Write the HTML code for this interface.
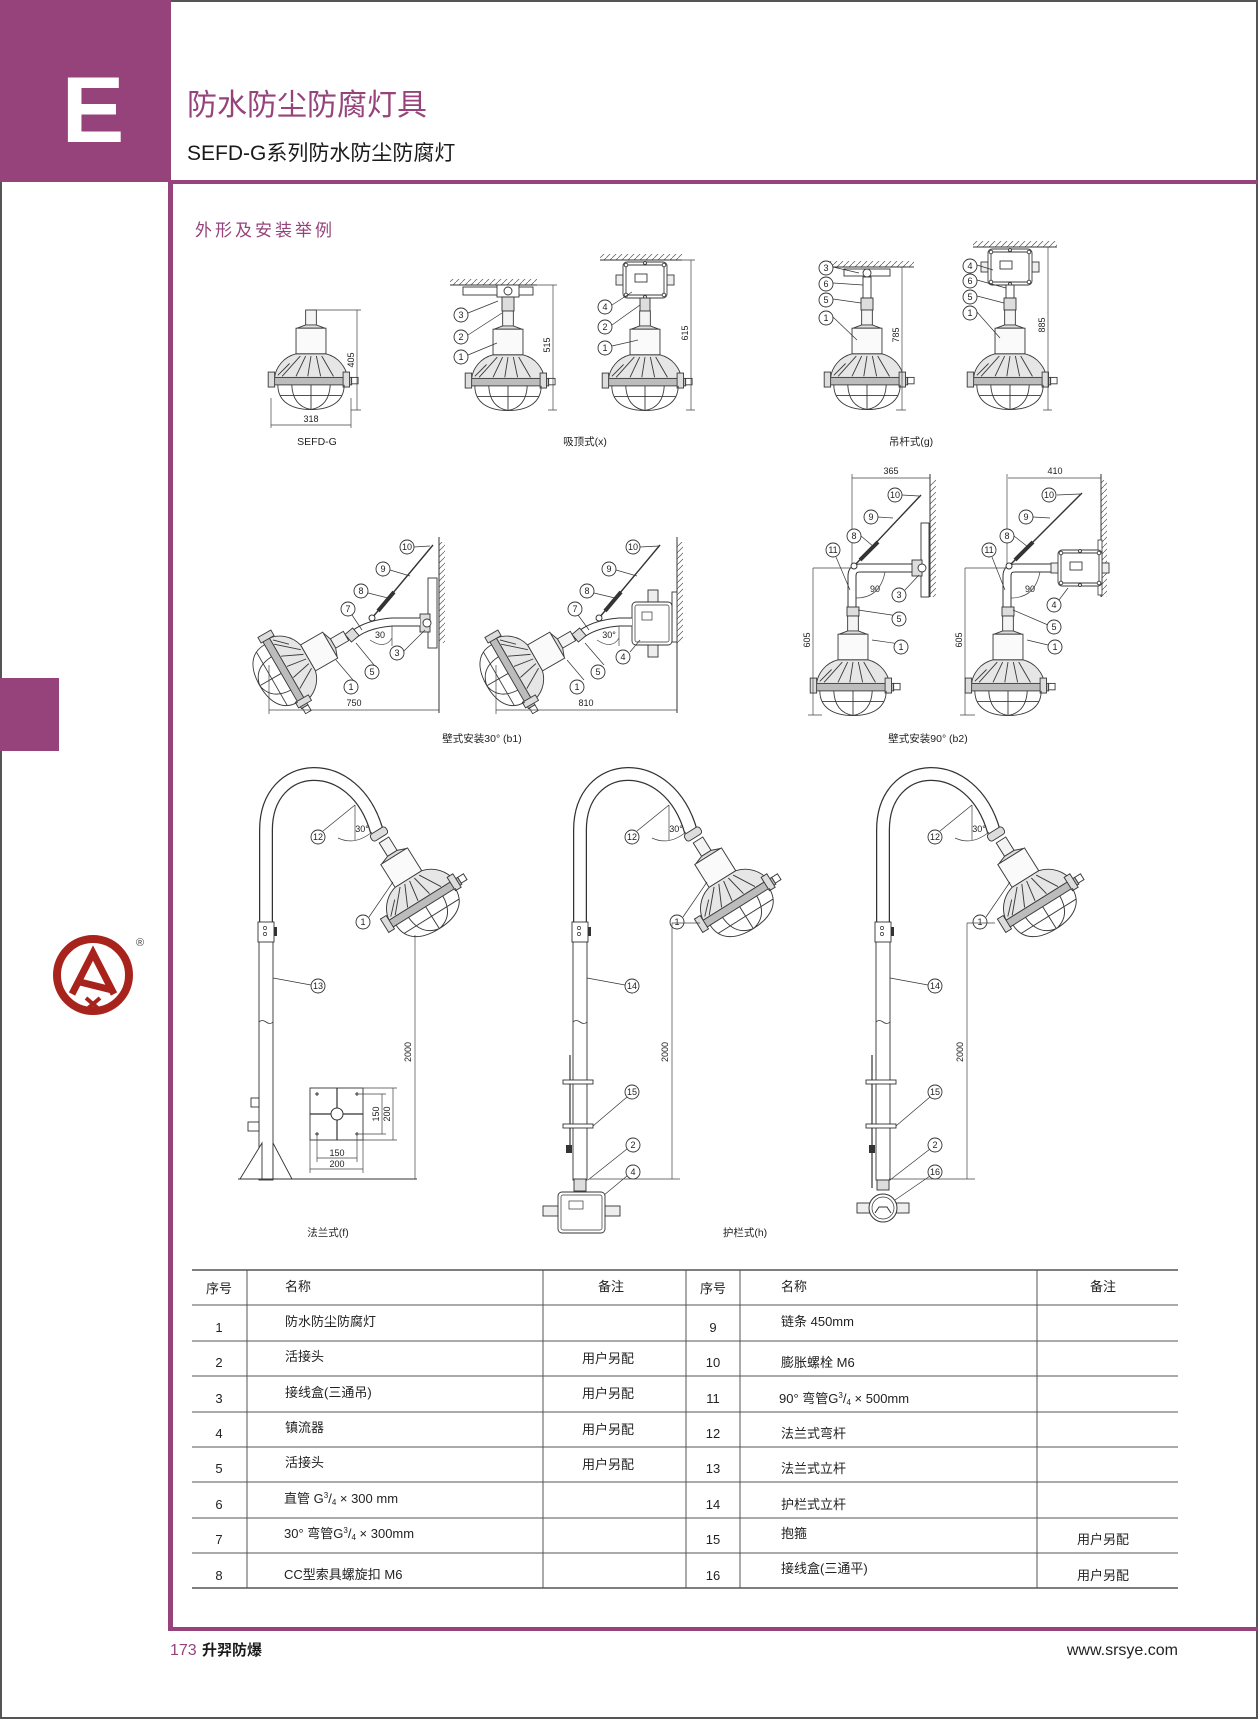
<!DOCTYPE html>
<html><head><meta charset="utf-8"><style>
html,body{margin:0;padding:0;background:#fff}
svg{display:block}
text{font-family:"Liberation Sans","Noto Sans CJK SC",sans-serif}
.c circle{fill:#fff;stroke:#333;stroke-width:0.9}
.c text{font-size:9px;text-anchor:middle;fill:#222}
.ld{stroke:#333;stroke-width:0.7;fill:none}
.dm{stroke:#444;stroke-width:0.7;fill:none}
.dt{font-size:9px;fill:#222;text-anchor:middle}
.tb{font-size:13px;fill:#222}
.lb{font-size:10.5px;fill:#222;text-anchor:middle}
</style></head><body>
<svg width="1258" height="1719" viewBox="0 0 1258 1719" xmlns="http://www.w3.org/2000/svg">
<defs>
<pattern id="h" width="6" height="6" patternUnits="userSpaceOnUse"><path d="M0 6 L6 0" stroke="#555" stroke-width="0.7"/></pattern>
<g id="lamp"><g transform="scale(1.07)" stroke="#3a3a3a" stroke-width="0.85">
 <rect x="-5" y="0" width="10" height="14" fill="#f4f4f4"/>
 <path d="M-5 14 L-13 17 L13 17 L5 14Z" fill="#ddd"/>
 <rect x="-14" y="17" width="28" height="24" fill="#fafafa"/>
 <path d="M-14 41 C-26 44 -33 54 -34 63 L34 63 C33 54 26 44 14 41Z" fill="#e6e6e6"/>
 <path d="M-10 43 L-27 62 M-5 43 L-14 62 M0 43 L-3 62 M5 43 L9 62 M10 43 L21 62 M-20 50 L-31 61" fill="none"/>
 <rect x="-38" y="63" width="76" height="7" fill="#bcbcbc"/>
 <rect x="-40" y="58" width="6" height="14" fill="#ddd"/>
 <rect x="30" y="58" width="6" height="14" fill="#ddd"/>
 <rect x="38" y="63" width="6" height="6" fill="#fff"/>
 <path d="M-31 70 C-31 86 -18 93 0 93 C18 93 31 86 31 70 M-18 70 Q-17 90 0 93 M18 70 Q17 90 0 93 M0 70 L0 93 M-29 80 L29 80" fill="none"/>
</g></g>
<g id="box" stroke="#3a3a3a" stroke-width="0.9" fill="#fff">
 <rect x="-7" y="13" width="7" height="10" fill="#eee"/>
 <rect x="44" y="13" width="7" height="10" fill="#eee"/>
 <rect x="0" y="0" width="44" height="36" rx="4"/>
 <rect x="3" y="3" width="38" height="30" rx="2"/>
 <rect x="12" y="12" width="12" height="8"/>
 <circle cx="3" cy="3" r="1.8"/><circle cx="41" cy="3" r="1.8"/><circle cx="3" cy="33" r="1.8"/><circle cx="41" cy="33" r="1.8"/>
 <circle cx="22" cy="1" r="1.5"/><circle cx="22" cy="35" r="1.5"/>
</g>
</defs>

<rect x="1" y="1" width="1256" height="1717" fill="none" stroke="#555" stroke-width="2"/>
<rect x="0" y="0" width="171" height="182" fill="#95437a"/>
<text x="93" y="142" font-size="94" font-weight="bold" fill="#fff" text-anchor="middle">E</text>
<rect x="168" y="180" width="1090" height="4" fill="#95437a"/>
<rect x="168" y="180" width="5" height="1451" fill="#95437a"/>
<rect x="168" y="1627" width="1090" height="4" fill="#95437a"/>
<text x="187" y="115" font-size="30" fill="#95437a">防水防尘防腐灯具</text>
<text x="187" y="160" font-size="21" fill="#1a1a1a">SEFD-G系列防水防尘防腐灯</text>
<text x="195" y="236" font-size="17" fill="#95437a" letter-spacing="3">外形及安装举例</text>
<rect x="0" y="678" width="59" height="73" fill="#95437a"/>

<circle cx="93" cy="975" r="36" fill="none" stroke="#a8231c" stroke-width="8"/>
<path d="M72 994 L93 953 L114 994 M80 982 L112 990" fill="none" stroke="#a8231c" stroke-width="7"/>
<path d="M86 998 L100 1010 M100 998 L86 1010" stroke="#a8231c" stroke-width="4"/>
<text x="140" y="946" font-size="11" fill="#444" text-anchor="middle">®</text>

<!-- SEFD-G -->
<use href="#lamp" x="311" y="310"/>
<path class="dm" d="M313 310 L361 310 M351 410 L361 410 M357 310 L357 410 M271 398 L271 428 M351 398 L351 428 M271 425 L351 425"/>
<text class="dt" transform="translate(354,360) rotate(-90)">405</text>
<text class="dt" x="311" y="422">318</text>
<text class="lb" x="317" y="445">SEFD-G</text>

<!-- 吸顶 A -->
<rect x="450" y="279" width="87" height="6" fill="url(#h)"/>
<path d="M450 285 L537 285" stroke="#333" stroke-width="1"/>
<rect x="463" y="287" width="70" height="8" fill="#fff" stroke="#333" stroke-width="0.9"/>
<rect x="497" y="285" width="22" height="12" fill="#fff" stroke="#333" stroke-width="0.9"/>
<circle cx="508" cy="291" r="4" fill="#fff" stroke="#333" stroke-width="0.9"/>
<rect x="502" y="297" width="12" height="14" fill="#ddd" stroke="#333" stroke-width="0.9"/>
<use href="#lamp" x="508" y="311"/>
<path class="ld" d="M468 313 L498 301 M468 335 L502 313 M468 355 L497 343"/>
<g class="c" transform="translate(461,315)"><circle r="7"/><text y="3">3</text></g>
<g class="c" transform="translate(461,337)"><circle r="7"/><text y="3">2</text></g>
<g class="c" transform="translate(461,357)"><circle r="7"/><text y="3">1</text></g>
<path class="dm" d="M537 285 L557 285 M548 410 L557 410 M553 285 L553 410"/>
<text class="dt" transform="translate(550,345) rotate(-90)">515</text>

<!-- 吸顶 B -->
<rect x="600" y="254" width="82" height="6" fill="url(#h)"/>
<path d="M600 260 L682 260" stroke="#333"/>
<use href="#box" x="623" y="262"/>
<rect x="640" y="298" width="10" height="13" fill="#ddd" stroke="#333" stroke-width="0.9"/>
<use href="#lamp" x="645" y="311"/>
<path class="ld" d="M612 305 L632 292 M612 325 L640 305 M612 346 L638 340"/>
<g class="c" transform="translate(605,307)"><circle r="7"/><text y="3">4</text></g>
<g class="c" transform="translate(605,327)"><circle r="7"/><text y="3">2</text></g>
<g class="c" transform="translate(605,348)"><circle r="7"/><text y="3">1</text></g>
<path class="dm" d="M682 260 L695 260 M686 410 L695 410 M691 260 L691 410"/>
<text class="dt" transform="translate(688,333) rotate(-90)">615</text>
<text class="lb" x="585" y="445">吸顶式(x)</text>

<!-- 吊杆 A (cx 867) -->
<rect x="826" y="261" width="88" height="6" fill="url(#h)"/>
<path d="M826 267 L914 267" stroke="#333"/>
<rect x="844" y="269" width="46" height="7" fill="#fff" stroke="#333" stroke-width="0.9"/>
<circle cx="867" cy="273" r="4" fill="#fff" stroke="#333" stroke-width="0.9"/>
<rect x="863" y="277" width="8" height="21" fill="#fff" stroke="#333" stroke-width="0.9"/>
<rect x="861" y="298" width="12" height="12" fill="#ddd" stroke="#333" stroke-width="0.9"/>
<use href="#lamp" x="867" y="310"/>
<path class="ld" d="M833 267 L859 273 M833 283 L863 285 M833 299 L861 303 M833 317 L857 340"/>
<g class="c" transform="translate(826,268)"><circle r="7"/><text y="3">3</text></g>
<g class="c" transform="translate(826,284)"><circle r="7"/><text y="3">6</text></g>
<g class="c" transform="translate(826,300)"><circle r="7"/><text y="3">5</text></g>
<g class="c" transform="translate(826,318)"><circle r="7"/><text y="3">1</text></g>
<path class="dm" d="M914 267 L906 267 M896 410 L906 410 M902 267 L902 410"/>
<text class="dt" transform="translate(899,335) rotate(-90)">785</text>

<!-- 吊杆 B (cx 1010) -->
<rect x="973" y="241" width="84" height="6" fill="url(#h)"/>
<path d="M973 247 L1057 247" stroke="#333"/>
<use href="#box" x="988" y="249"/>
<rect x="1006" y="285" width="8" height="13" fill="#fff" stroke="#333" stroke-width="0.9"/>
<rect x="1004" y="298" width="12" height="12" fill="#ddd" stroke="#333" stroke-width="0.9"/>
<use href="#lamp" x="1010" y="310"/>
<path class="ld" d="M977 265 L993 270 M977 280 L1006 288 M977 296 L1004 303 M977 312 L1000 338"/>
<g class="c" transform="translate(970,266)"><circle r="7"/><text y="3">4</text></g>
<g class="c" transform="translate(970,281)"><circle r="7"/><text y="3">6</text></g>
<g class="c" transform="translate(970,297)"><circle r="7"/><text y="3">5</text></g>
<g class="c" transform="translate(970,313)"><circle r="7"/><text y="3">1</text></g>
<path class="dm" d="M1057 247 L1052 247 M1043 410 L1052 410 M1048 247 L1048 410"/>
<text class="dt" transform="translate(1045,325) rotate(-90)">885</text>
<text class="lb" x="911" y="445">吊杆式(g)</text>

<!-- b1 left -->
<rect x="439" y="542" width="6" height="101" fill="url(#h)"/>
<path d="M439 537 L439 713" stroke="#333"/>
<rect x="428" y="578" width="9" height="70" fill="#fff" stroke="#333" stroke-width="0.9"/>
<rect x="420" y="614" width="10" height="18" fill="#ddd" stroke="#333" stroke-width="0.9"/>
<circle cx="427" cy="623" r="4" fill="#fff" stroke="#333" stroke-width="0.9"/>
<path d="M420 622 L392 622 Q366 624 352 636" fill="none" stroke="#333" stroke-width="9"/>
<path d="M420 622 L392 622 Q366 624 352 636" fill="none" stroke="#fff" stroke-width="7"/>
<path d="M372 618 L433 545" stroke="#333" stroke-width="1.4"/>
<path d="M378 611 L394 592" stroke="#333" stroke-width="4"/>
<circle cx="372" cy="618" r="3" fill="#fff" stroke="#333"/>
<rect x="347" y="630" width="10" height="10" fill="#ddd" stroke="#333" stroke-width="0.9" transform="rotate(-40 352 635)"/>
<use href="#lamp" transform="translate(346,636) rotate(60)"/>
<path class="ld" d="M414 547 L430 546 M390 570 L410 576 M368 593 L388 598 M352 615 L362 630 M404 651 L425 630 M374 665 L356 643 M353 680 L336 660"/>
<g class="c" transform="translate(407,547)"><circle r="7"/><text y="3">10</text></g>
<g class="c" transform="translate(383,569)"><circle r="7"/><text y="3">9</text></g>
<g class="c" transform="translate(361,591)"><circle r="7"/><text y="3">8</text></g>
<g class="c" transform="translate(348,609)"><circle r="7"/><text y="3">7</text></g>
<g class="c" transform="translate(397,653)"><circle r="7"/><text y="3">3</text></g>
<g class="c" transform="translate(372,672)"><circle r="7"/><text y="3">5</text></g>
<g class="c" transform="translate(351,687)"><circle r="7"/><text y="3">1</text></g>
<path class="dm" d="M370 640 Q385 650 392 638 M392 626 L392 646"/>
<text class="dt" x="380" y="638">30</text>
<path class="dm" d="M269 665 L269 714 M269 710 L439 710"/>
<text class="dt" x="354" y="706">750</text>

<!-- b1 right -->
<rect x="677" y="542" width="6" height="101" fill="url(#h)"/>
<path d="M677 537 L677 713" stroke="#333"/>
<rect x="672" y="592" width="5" height="50" fill="#fff" stroke="#333" stroke-width="0.9"/>
<rect x="648" y="590" width="10" height="12" fill="#eee" stroke="#333" stroke-width="0.9"/>
<rect x="648" y="645" width="10" height="12" fill="#eee" stroke="#333" stroke-width="0.9"/>
<rect x="632" y="602" width="40" height="43" rx="4" fill="#fff" stroke="#333" stroke-width="0.9"/>
<rect x="635" y="605" width="34" height="37" rx="2" fill="none" stroke="#333" stroke-width="0.7"/>
<rect x="642" y="612" width="10" height="8" fill="none" stroke="#333" stroke-width="0.7"/>
<g transform="translate(227,0)">
<path d="M405 622 L392 622 Q366 624 352 636" fill="none" stroke="#333" stroke-width="9"/>
<path d="M405 622 L392 622 Q366 624 352 636" fill="none" stroke="#fff" stroke-width="7"/>
<path d="M372 618 L433 545" stroke="#333" stroke-width="1.4"/>
<path d="M378 611 L394 592" stroke="#333" stroke-width="4"/>
<circle cx="372" cy="618" r="3" fill="#fff" stroke="#333"/>
<rect x="347" y="630" width="10" height="10" fill="#ddd" stroke="#333" stroke-width="0.9" transform="rotate(-40 352 635)"/>
<use href="#lamp" transform="translate(346,636) rotate(60)"/>
<path class="ld" d="M413 547 L432 546 M389 570 L410 576 M367 593 L388 598 M351 615 L362 630 M377 665 L358 643 M357 680 L340 660"/>
<path class="dm" d="M370 640 Q385 650 392 638 M392 626 L392 646"/>
<text class="dt" x="382" y="638">30°</text>
</g>
<path class="ld" d="M630 652 L640 640"/>
<g class="c" transform="translate(633,547)"><circle r="7"/><text y="3">10</text></g>
<g class="c" transform="translate(609,569)"><circle r="7"/><text y="3">9</text></g>
<g class="c" transform="translate(587,591)"><circle r="7"/><text y="3">8</text></g>
<g class="c" transform="translate(575,609)"><circle r="7"/><text y="3">7</text></g>
<g class="c" transform="translate(623,657)"><circle r="7"/><text y="3">4</text></g>
<g class="c" transform="translate(598,672)"><circle r="7"/><text y="3">5</text></g>
<g class="c" transform="translate(577,687)"><circle r="7"/><text y="3">1</text></g>
<path class="dm" d="M496 665 L496 714 M496 710 L677 710"/>
<text class="dt" x="586" y="706">810</text>
<text class="lb" x="482" y="742">壁式安装30° (b1)</text>

<!-- b2 left -->
<path class="dm" d="M852 474 L852 567 M852 478 L930 478"/>
<path d="M912 568 L860 568 Q852 568 852 576 L852 607" fill="none" stroke="#333" stroke-width="9"/>
<path d="M912 568 L860 568 Q852 568 852 576 L852 607" fill="none" stroke="#fff" stroke-width="7"/>
<path d="M854 566 L921 495" stroke="#333" stroke-width="1.4"/>
<path d="M860 560 L878 542" stroke="#333" stroke-width="4"/>
<circle cx="854" cy="566" r="3" fill="#fff" stroke="#333"/>
<rect x="847" y="607" width="12" height="9" fill="#ddd" stroke="#333" stroke-width="0.9"/>
<use href="#lamp" x="853" y="616"/>
<path class="dm" d="M856 598 Q880 598 885 572"/>
<text class="dt" x="875" y="592">90</text>
<path class="dm" d="M813 568 L852 568 M808 715 L822 715 M813 568 L813 715"/>
<text class="dt" transform="translate(810,640) rotate(-90)">605</text>
<rect x="930" y="480" width="6" height="117" fill="url(#h)"/>
<path d="M930 474 L930 597" stroke="#333"/>
<rect x="921" y="523" width="8" height="74" fill="#fff" stroke="#333" stroke-width="0.9"/>
<rect x="912" y="560" width="10" height="16" fill="#ddd" stroke="#333" stroke-width="0.9"/>
<circle cx="922" cy="568" r="4" fill="#fff" stroke="#333" stroke-width="0.9"/>
<text class="dt" x="891" y="474">365</text>
<path class="ld" d="M902 495 L919 496 M878 517 L893 518 M861 536 L874 547 M836 557 L850 590 M905 590 L919 575 M905 617 L858 610 M907 645 L872 640"/>
<g class="c" transform="translate(895,495)"><circle r="7"/><text y="3">10</text></g>
<g class="c" transform="translate(871,517)"><circle r="7"/><text y="3">9</text></g>
<g class="c" transform="translate(854,536)"><circle r="7"/><text y="3">8</text></g>
<g class="c" transform="translate(833,550)"><circle r="7"/><text y="3">11</text></g>
<g class="c" transform="translate(899,595)"><circle r="7"/><text y="3">3</text></g>
<g class="c" transform="translate(899,619)"><circle r="7"/><text y="3">5</text></g>
<g class="c" transform="translate(901,647)"><circle r="7"/><text y="3">1</text></g>

<!-- b2 right -->
<g transform="translate(155,0)">
<path class="dm" d="M852 474 L852 567"/>
<path d="M907 568 L860 568 Q852 568 852 576 L852 607" fill="none" stroke="#333" stroke-width="9"/>
<path d="M907 568 L860 568 Q852 568 852 576 L852 607" fill="none" stroke="#fff" stroke-width="7"/>
<path d="M854 566 L927 493" stroke="#333" stroke-width="1.4"/>
<path d="M860 560 L878 542" stroke="#333" stroke-width="4"/>
<circle cx="854" cy="566" r="3" fill="#fff" stroke="#333"/>
<rect x="847" y="607" width="12" height="9" fill="#ddd" stroke="#333" stroke-width="0.9"/>
<use href="#lamp" x="853" y="616"/>
<path class="dm" d="M856 598 Q880 598 885 572"/>
<text class="dt" x="875" y="592">90</text>
<path class="dm" d="M810 568 L852 568 M805 715 L820 715 M810 568 L810 715"/>
<text class="dt" transform="translate(807,640) rotate(-90)">605</text>
</g>
<path class="dm" d="M1008 478 L1101 478"/>
<text class="dt" x="1055" y="474">410</text>
<rect x="1101" y="480" width="6" height="117" fill="url(#h)"/>
<path d="M1101 474 L1101 597" stroke="#333"/>
<rect x="1098" y="540" width="4" height="55" fill="#fff" stroke="#333" stroke-width="0.8"/>
<use href="#box" x="1058" y="550"/>
<path class="ld" d="M1057 495 L1080 494 M1033 517 L1050 518 M1014 536 L1028 547 M992 557 L1005 590 M1059 600 L1068 588 M1048 625 L1013 610 M1048 645 L1027 640"/>
<g class="c" transform="translate(1049,495)"><circle r="7"/><text y="3">10</text></g>
<g class="c" transform="translate(1026,517)"><circle r="7"/><text y="3">9</text></g>
<g class="c" transform="translate(1007,536)"><circle r="7"/><text y="3">8</text></g>
<g class="c" transform="translate(989,550)"><circle r="7"/><text y="3">11</text></g>
<g class="c" transform="translate(1054,605)"><circle r="7"/><text y="3">4</text></g>
<g class="c" transform="translate(1054,627)"><circle r="7"/><text y="3">5</text></g>
<g class="c" transform="translate(1055,647)"><circle r="7"/><text y="3">1</text></g>
<text class="lb" x="928" y="742">壁式安装90° (b2)</text>

<!-- poles -->
<defs>
<g id="pole">
 <rect x="259" y="940" width="14" height="240" fill="#fff" stroke="#333" stroke-width="0.9"/>
 <path d="M259 1022 q3 -3 7 0 q4 3 7 0" fill="#fff" stroke="#333" stroke-width="0.8"/>
 <path d="M266 925 L266 830 C266 758 355 752 377 832" fill="none" stroke="#333" stroke-width="14"/>
 <path d="M266 925 L266 830 C266 758 355 752 377 832" fill="none" stroke="#fff" stroke-width="11.5"/>
 <rect x="258" y="922" width="16" height="20" fill="#fff" stroke="#333" stroke-width="0.9"/>
 <circle cx="265" cy="928" r="1.6" fill="none" stroke="#333" stroke-width="0.7"/>
 <circle cx="265" cy="934" r="1.6" fill="none" stroke="#333" stroke-width="0.7"/>
 <rect x="274" y="927" width="3" height="9" fill="#333"/>
 <rect x="370" y="830" width="18" height="8" rx="3" fill="#ddd" stroke="#333" stroke-width="0.9" transform="rotate(-32 379 834)"/>
 <use href="#lamp" transform="translate(384,840) rotate(-32) scale(1.05)"/>
 <path class="dm" d="M355 805 L355 840 M338 838 Q355 846 372 832"/>
 <text class="dt" x="362" y="832" font-size="10">30°</text>
 <path class="ld" d="M323 831 L355 805 M369 917 L393 882"/>
 <g class="c" transform="translate(318,837)"><circle r="7"/><text y="3">12</text></g>
 <g class="c" transform="translate(363,922)"><circle r="7"/><text y="3">1</text></g>
 <path class="ld" d="M273 978 L311 985"/>
</g>
</defs>
<use href="#pole"/>
<use href="#pole" x="314"/>
<use href="#pole" x="617"/>

<g class="c" transform="translate(318,986)"><circle r="7"/><text y="3">13</text></g>
<path d="M240 1179 L262 1143 L262 1179 M292 1179 L273 1143 L273 1179" fill="#fff" stroke="#333" stroke-width="0.9"/>
<path d="M238 1179 L417 1179" stroke="#333" stroke-width="1"/>
<rect x="251" y="1098" width="8" height="9" fill="#fff" stroke="#333" stroke-width="0.9"/>
<rect x="248" y="1122" width="11" height="9" fill="#fff" stroke="#333" stroke-width="0.9"/>
<rect x="310" y="1088" width="53" height="52" fill="#fff" stroke="#333" stroke-width="0.9"/>
<path d="M310 1114 L363 1114 M337 1088 L337 1140" stroke="#333" stroke-width="1.2"/>
<circle cx="337" cy="1114" r="6" fill="#fff" stroke="#333"/>
<path d="M315 1094 h4 M317 1092 v4 M355 1094 h4 M357 1092 v4 M315 1134 h4 M317 1132 v4 M355 1134 h4 M357 1132 v4" stroke="#333"/>
<path class="dm" d="M357 1094 L386 1094 M357 1134 L386 1134 M363 1088 L397 1088 M363 1140 L397 1140 M382 1094 L382 1134 M393 1088 L393 1140 M317 1136 L317 1162 M357 1136 L357 1162 M310 1140 L310 1173 M363 1140 L363 1173 M317 1158 L357 1158 M310 1169 L363 1169"/>
<text class="dt" transform="translate(379,1114) rotate(-90)">150</text>
<text class="dt" transform="translate(390,1114) rotate(-90)">200</text>
<text class="dt" x="337" y="1156">150</text>
<text class="dt" x="337" y="1167">200</text>
<path class="dm" d="M415 935 L415 1179"/>
<text class="dt" transform="translate(411,1052) rotate(-90)">2000</text>
<text class="lb" x="328" y="1236">法兰式(f)</text>

<g class="c" transform="translate(632,986)"><circle r="7"/><text y="3">14</text></g>
<path d="M570 1055 L570 1150" stroke="#333" stroke-width="1.2"/>
<rect x="563" y="1080" width="30" height="4" fill="#fff" stroke="#333" stroke-width="0.9"/>
<rect x="563" y="1124" width="30" height="4" fill="#fff" stroke="#333" stroke-width="0.9"/>
<rect x="566" y="1145" width="6" height="8" fill="#333"/>
<path class="ld" d="M593 1126 L627 1097 M588 1180 L627 1149 M592 1205 L627 1176"/>
<g class="c" transform="translate(632,1092)"><circle r="7"/><text y="3">15</text></g>
<g class="c" transform="translate(633,1145)"><circle r="7"/><text y="3">2</text></g>
<g class="c" transform="translate(633,1172)"><circle r="7"/><text y="3">4</text></g>
<rect x="574" y="1179" width="12" height="12" fill="#ddd" stroke="#333" stroke-width="0.9"/>
<rect x="543" y="1206" width="15" height="10" fill="#eee" stroke="#333" stroke-width="0.9"/>
<rect x="605" y="1206" width="15" height="10" fill="#eee" stroke="#333" stroke-width="0.9"/>
<rect x="558" y="1192" width="47" height="41" rx="4" fill="#fff" stroke="#333" stroke-width="0.9"/>
<rect x="561" y="1195" width="41" height="35" rx="2" fill="none" stroke="#333" stroke-width="0.7"/>
<rect x="569" y="1201" width="14" height="8" fill="none" stroke="#333" stroke-width="0.7"/>
<path class="dm" d="M672 923 L700 923 M590 1179 L680 1179 M672 923 L672 1179"/>
<text class="dt" transform="translate(668,1052) rotate(-90)">2000</text>
<text class="lb" x="745" y="1236">护栏式(h)</text>

<g class="c" transform="translate(935,986)"><circle r="7"/><text y="3">14</text></g>
<path d="M872 1055 L872 1188" stroke="#333" stroke-width="1.2"/>
<rect x="866" y="1080" width="30" height="4" fill="#fff" stroke="#333" stroke-width="0.9"/>
<rect x="866" y="1124" width="30" height="4" fill="#fff" stroke="#333" stroke-width="0.9"/>
<rect x="869" y="1145" width="6" height="8" fill="#333"/>
<path class="ld" d="M896 1126 L930 1097 M890 1180 L930 1149 M895 1200 L930 1176"/>
<g class="c" transform="translate(935,1092)"><circle r="7"/><text y="3">15</text></g>
<g class="c" transform="translate(935,1145)"><circle r="7"/><text y="3">2</text></g>
<g class="c" transform="translate(935,1172)"><circle r="7"/><text y="3">16</text></g>
<rect x="877" y="1180" width="12" height="10" fill="#ddd" stroke="#333" stroke-width="0.9"/>
<rect x="857" y="1203" width="13" height="10" fill="#eee" stroke="#333" stroke-width="0.9"/>
<rect x="896" y="1203" width="13" height="10" fill="#eee" stroke="#333" stroke-width="0.9"/>
<circle cx="883" cy="1208" r="14" fill="#fff" stroke="#333" stroke-width="1"/>
<circle cx="883" cy="1208" r="11" fill="none" stroke="#333" stroke-width="0.7"/>
<path d="M875 1213 L879 1207 L887 1207 L891 1213" fill="none" stroke="#333"/>
<path class="dm" d="M967 923 L995 923 M889 1179 L975 1179 M967 923 L967 1179"/>
<text class="dt" transform="translate(963,1052) rotate(-90)">2000</text>

<!-- table -->
<g stroke="#555">
<path d="M192 1270 L1178 1270 M192 1588 L1178 1588" stroke-width="1.6"/>
<path d="M192 1305 L1178 1305 M192 1341 L1178 1341 M192 1376 L1178 1376 M192 1412 L1178 1412 M192 1447 L1178 1447 M192 1482 L1178 1482 M192 1518 L1178 1518 M192 1553 L1178 1553" stroke-width="1.1"/>
<path d="M247 1270 L247 1588 M543 1270 L543 1588 M686 1270 L686 1588 M740 1270 L740 1588 M1037 1270 L1037 1588" stroke-width="1"/>
</g>
<g class="tb">
<text x="219" y="1293" text-anchor="middle">序号</text>
<text x="285" y="1291">名称</text>
<text x="611" y="1291" text-anchor="middle">备注</text>
<text x="713" y="1293" text-anchor="middle">序号</text>
<text x="781" y="1291">名称</text>
<text x="1103" y="1291" text-anchor="middle">备注</text>
</g>
<g class="tb" text-anchor="middle">
<text x="219" y="1332">1</text><text x="219" y="1367">2</text><text x="219" y="1403">3</text><text x="219" y="1438">4</text><text x="219" y="1473">5</text><text x="219" y="1509">6</text><text x="219" y="1544">7</text><text x="219" y="1580">8</text>
<text x="713" y="1332">9</text><text x="713" y="1367">10</text><text x="713" y="1403">11</text><text x="713" y="1438">12</text><text x="713" y="1473">13</text><text x="713" y="1509">14</text><text x="713" y="1544">15</text><text x="713" y="1580">16</text>
<text x="608" y="1363">用户另配</text><text x="608" y="1398">用户另配</text><text x="608" y="1434">用户另配</text><text x="608" y="1469">用户另配</text>
<text x="1103" y="1544">用户另配</text><text x="1103" y="1580">用户另配</text>
</g>
<g class="tb">
<text x="285" y="1326">防水防尘防腐灯</text>
<text x="285" y="1361">活接头</text>
<text x="285" y="1397">接线盒(三通吊)</text>
<text x="285" y="1432">镇流器</text>
<text x="285" y="1467">活接头</text>
<text x="284" y="1503">直管 G<tspan font-size="8" dy="-5">3</tspan><tspan dy="5">/</tspan><tspan font-size="8" dy="2">4</tspan><tspan dy="-2"> × 300 mm</tspan></text>
<text x="284" y="1538">30°  弯管G<tspan font-size="8" dy="-5">3</tspan><tspan dy="5">/</tspan><tspan font-size="8" dy="2">4</tspan><tspan dy="-2"> × 300mm</tspan></text>
<text x="284" y="1579">CC型索具螺旋扣 M6</text>
<text x="781" y="1326">链条 450mm</text>
<text x="781" y="1367">膨胀螺栓 M6</text>
<text x="779" y="1403">90°  弯管G<tspan font-size="8" dy="-5">3</tspan><tspan dy="5">/</tspan><tspan font-size="8" dy="2">4</tspan><tspan dy="-2"> × 500mm</tspan></text>
<text x="781" y="1438">法兰式弯杆</text>
<text x="781" y="1473">法兰式立杆</text>
<text x="781" y="1509">护栏式立杆</text>
<text x="781" y="1538">抱箍</text>
<text x="781" y="1573">接线盒(三通平)</text>
</g>

<text x="170" y="1655" font-size="16" fill="#95437a">173</text>
<text x="202" y="1655" font-size="15" font-weight="bold" fill="#1a1a1a">升羿防爆</text>
<text x="1178" y="1655" font-size="16" fill="#222" text-anchor="end">www.srsye.com</text>
</svg>
</body></html>
